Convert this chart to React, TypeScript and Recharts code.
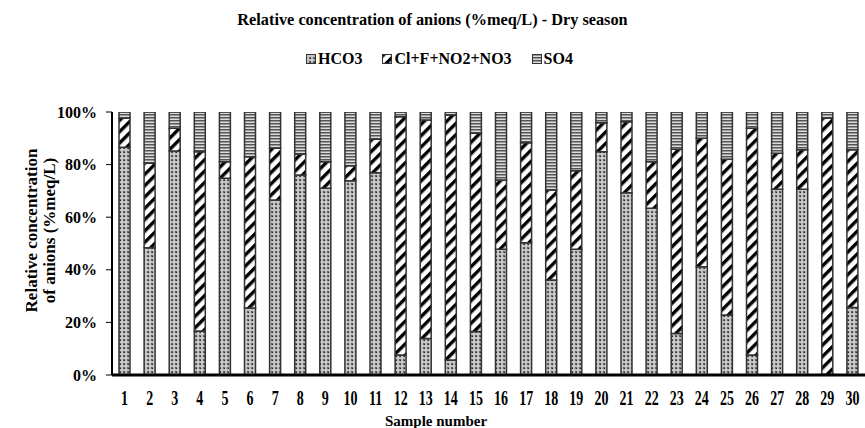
import React from 'react';
import { BarChart, Bar, XAxis, YAxis, Legend } from 'recharts';

const samples = ['1','2','3','4','5','6','7','8','9','10','11','12','13','14','15','16','17','18','19','20','21','22','23','24','25','26','27','28','29','30'];
const hco3 = [86.6,48.4,85.2,16.7,74.8,25.5,66.5,76.0,71.0,73.9,76.9,7.6,13.9,5.7,16.5,47.8,50.3,36.1,47.8,84.9,69.3,63.4,15.8,41.2,22.8,7.6,70.6,70.6,0.3,25.7];
const clGroup = [11.0,32.1,8.6,68.2,6.3,57.5,19.7,8.0,10.1,5.7,12.7,90.6,83.1,93.2,75.4,26.3,38.0,34.2,29.9,11.0,27.0,17.7,70.0,48.8,59.2,86.2,13.7,15.0,97.3,59.9];
const so4 = [2.4,19.5,6.2,15.1,18.9,17.0,13.8,16.0,18.9,20.4,10.4,1.8,3.0,1.1,8.1,25.9,11.7,29.7,22.3,4.1,3.7,18.9,14.2,10.0,18.0,6.2,15.7,14.4,2.4,14.4];
const yTicks = [0,20,40,60,80,100];

const series = [
  { key: 'hco3', name: 'HCO3', fill: 'url(#pHCO3)' },
  { key: 'cl', name: 'Cl+F+NO2+NO3', fill: 'url(#pCl)' },
  { key: 'so4', name: 'SO4', fill: 'url(#pSO4)' },
];

const data = samples.map((s, i) => ({ sample: s, hco3: hco3[i], cl: clGroup[i], so4: so4[i] }));

const FONT = '"Liberation Serif", "Times New Roman", serif';

const Patterns = () => (
  <svg width="0" height="0" style={{ position: 'absolute' }}>
    <defs>
      <pattern id="pHCO3" width="4" height="4" patternUnits="userSpaceOnUse">
        <rect width="4" height="4" fill="#666" />
        <rect x="1" y="0" width="2" height="4" fill="#bdbdbd" />
        <rect x="0" y="1" width="4" height="2" fill="#bdbdbd" />
        <rect x="1.5" y="1.5" width="1" height="1" fill="#ffffff" />
        <rect x="0" y="0" width="1" height="1" fill="#2a2a2a" />
      </pattern>
      <pattern id="pCl" width="8" height="8" patternUnits="userSpaceOnUse" patternTransform="rotate(45)">
        <rect width="8" height="8" fill="#ffffff" />
        <rect x="0" y="0" width="3.4" height="8" fill="#000000" />
      </pattern>
      <pattern id="pSO4" width="3" height="3" patternUnits="userSpaceOnUse">
        <rect width="3" height="3" fill="#dcdcdc" />
        <rect x="0" y="0" width="3" height="1.5" fill="#555" />
      </pattern>
    </defs>
  </svg>
);

const renderLegend = () => (
  <div style={{ display: 'flex', justifyContent: 'center', gap: 20, height: 20, alignItems: 'center', fontFamily: FONT, fontWeight: 'bold', fontSize: 16, color: '#000', paddingLeft: 14 }}>
    {series.map((s) => (
      <span key={s.key} style={{ display: 'flex', alignItems: 'center' }}>
        <svg width="10" height="10" style={{ marginRight: 2 }}>
          <rect x="0.5" y="0.5" width="9" height="9" fill={s.fill} stroke="#333" strokeWidth="1" />
        </svg>
        {s.name}
      </span>
    ))}
  </div>
);

const XTick = (props: any) => {
  const { x, y, payload } = props;
  const base = y + 15.7;
  return (
    <text transform={`translate(${x}, ${base}) scale(1, 1.5)`} x={0} y={0} textAnchor="middle" fontFamily={FONT} fontWeight="bold" fontSize={14} fill="#000">
      {payload.value}
    </text>
  );
};

const YLabel = (props: any) => {
  const vb = props.viewBox || { y: 112, height: 263 };
  const cy = vb.y + vb.height / 2 - 13;
  return (
    <g>
      <text x={31} y={cy} transform={`rotate(-90, 31, ${cy})`} textAnchor="middle" dominantBaseline="central" fontFamily={FONT} fontWeight="bold" fontSize={17} fill="#000">Relative concentration</text>
      <text x={49} y={cy} transform={`rotate(-90, 49, ${cy})`} textAnchor="middle" dominantBaseline="central" fontFamily={FONT} fontWeight="bold" fontSize={17} fill="#000">of anions (%meq/L)</text>
    </g>
  );
};

const XLabel = (props: any) => (
  <text x={436} y={426} textAnchor="middle" fontFamily={FONT} fontWeight="bold" fontSize={15} fill="#000">Sample number</text>
);

export default function App() {
  return (
    <div style={{ position: 'absolute', left: 0, top: 0, width: 865, height: 428, background: '#fff' }}>
      <Patterns />
      <div style={{ position: 'absolute', left: 0, top: 10, width: 865, textAlign: 'center', fontFamily: FONT, fontWeight: 'bold', fontSize: 16.3, color: '#000' }}>
        Relative concentration of anions (%meq/L) - Dry season
      </div>
      <BarChart width={865} height={428} data={data} margin={{ top: 92, right: 0, bottom: 0, left: 0 }} barSize={11}>
        <Legend verticalAlign="top" content={renderLegend} wrapperStyle={{ top: 49, left: 0, width: 865 }} />
        <XAxis dataKey="sample" height={53} tickLine={false} axisLine={{ stroke: '#000', strokeWidth: 3 }} tickSize={0} tickMargin={14}
          tick={<XTick />} interval={0} label={<XLabel />} />
        <YAxis width={112} domain={[0, 100]} ticks={yTicks} tickFormatter={(v: number) => `${v}%`} axisLine={{ stroke: '#000', strokeWidth: 2 }}
          tickLine={{ stroke: '#000' }} tickSize={6} tickMargin={9} allowDataOverflow
          tick={{ fontFamily: FONT, fontWeight: 'bold', fontSize: 16, fill: '#000' }} label={<YLabel />} />
        {series.map((s) => (
          <Bar key={s.key} dataKey={s.key} name={s.name} stackId="a" fill={s.fill} stroke="#333" strokeWidth={1.5} isAnimationActive={false} />
        ))}
      </BarChart>
    </div>
  );
}
